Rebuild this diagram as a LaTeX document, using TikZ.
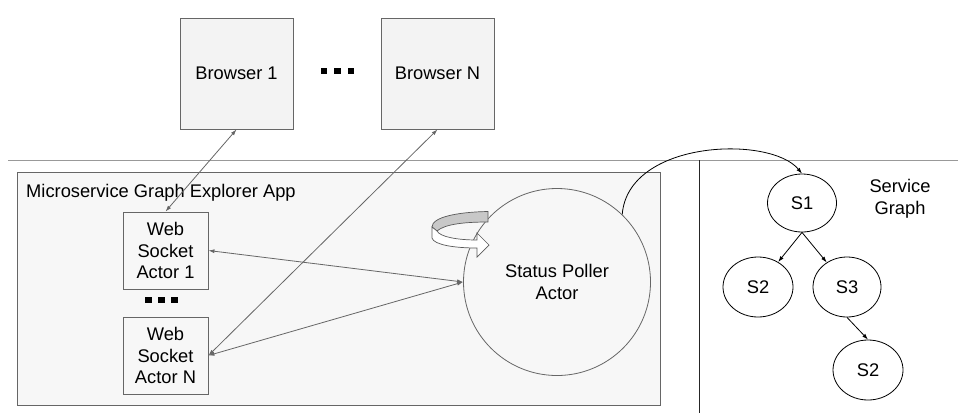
\documentclass[tikz,border=0pt]{standalone}
\usepackage{fontspec}
\setmainfont{Liberation Sans}
\usetikzlibrary{arrows.meta,shapes.geometric}
\definecolor{boxfill}{HTML}{F3F3F3}
\definecolor{appfill}{HTML}{F7F7F7}
\definecolor{edge}{HTML}{666666}
\definecolor{iconfill}{HTML}{C8C8C8}
\tikzset{
  txt/.style={font=\fontsize{18.3}{21.8}\selectfont, align=center},
  browserbox/.style={txt, draw=edge, fill=boxfill, line width=0.9pt, minimum width=113pt, minimum height=111pt, inner sep=0pt},
  wsbox/.style={txt, draw=edge, fill=appfill, line width=0.9pt, minimum width=85pt, minimum height=77pt, inner sep=0pt},
  svc/.style={txt, ellipse, draw=black, fill=white, line width=0.8pt, inner sep=0pt},
  link/.style={draw=edge, line width=0.8pt, {Latex[length=6pt,width=4pt]}-{Latex[length=6pt,width=4pt]}},
  treearrow/.style={draw=black, line width=0.8pt, -{Latex[length=6pt,width=4pt]}},
  dotsq/.style={fill=black, minimum size=6.5pt, inner sep=0pt},
}
\begin{document}
\begin{tikzpicture}[x=1pt,y=-1pt]
\useasboundingbox (0,0) rectangle (958,413);
% separators
\draw[color=gray!80, line width=0.9pt] (8,160) coordinate (hl) -- (958,160) coordinate (hr);
\draw[color=black!85, line width=0.9pt] (699,160) coordinate (vt) -- (699,413) coordinate (vb);
% app box
\node[draw=edge, fill=appfill, line width=0.9pt, minimum width=643pt, minimum height=233pt, inner sep=0pt] (app) at (338.5,288.5) {};
\node[txt, anchor=base west, inner sep=0pt] (applabel) at (26,197) {Microservice Graph Explorer App};
% browsers
\node[browserbox] (b1) at (236.5,73.5) {Browser 1};
\node[browserbox] (bn) at (437.5,73.5) {Browser N};
\node[dotsq] (bd1) at (324,71) {};
\node[dotsq] (bd2) at (337.5,71) {};
\node[dotsq] (bd3) at (351,71) {};
% web socket actors
\node[wsbox] (ws1) at (165.5,250.5) {Web\\Socket\\Actor 1};
\node[wsbox] (wsn) at (165.5,355.5) {Web\\Socket\\Actor N};
\node[dotsq] (wd1) at (148.5,300) {};
\node[dotsq] (wd2) at (161.5,300) {};
\node[dotsq] (wd3) at (174.5,300) {};
% status poller
\node[txt, circle, draw=edge, fill=appfill, line width=0.8pt, minimum size=187pt, inner sep=0pt] (sp) at (557,282) {Status Poller\\Actor};
% circular arrow icon
\filldraw[fill=iconfill, draw=black!65, line width=0.7pt]
  (488,211.5) .. controls (458,212) and (432,217) .. (432,227)
  -- (437,231) .. controls (445,224) and (465,222) .. (488,222) -- cycle;
\filldraw[fill=white, draw=black!65, line width=0.7pt]
  (432,227) -- (432,238) .. controls (434,245) and (455,248) .. (477,248)
  -- (477,257) -- (489,245) -- (477,233) -- (477,240)
  .. controls (458,240) and (440,237) .. (437,231) -- cycle;
% connectors
\draw[link] (b1.south) -- (ws1.north);
\draw[link] (bn.south) -- (wsn.east);
\draw[link] (ws1.east) -- (sp.west);
\draw[link] (wsn.east) -- (sp.west);
% service graph
\node[svc, minimum width=69pt, minimum height=58pt] (s1) at (802,203) {S1};
\node[svc, minimum width=70pt, minimum height=60pt] (s2a) at (758,287) {S2};
\node[svc, minimum width=68pt, minimum height=60pt] (s3) at (847,287) {S3};
\node[svc, minimum width=70pt, minimum height=60pt] (s2b) at (868,370) {S2};
\node[txt] (sglabel) at (900,199) {Service\\Graph};
\draw[treearrow] (s1.south) -- (s2a);
\draw[treearrow] (s1.south) -- (s3);
\draw[treearrow] (s3.south) -- (s2b.north);
\draw[treearrow] (sp.46) .. controls (628,140) and (770,135) .. (s1.north);
\end{tikzpicture}
\end{document}
